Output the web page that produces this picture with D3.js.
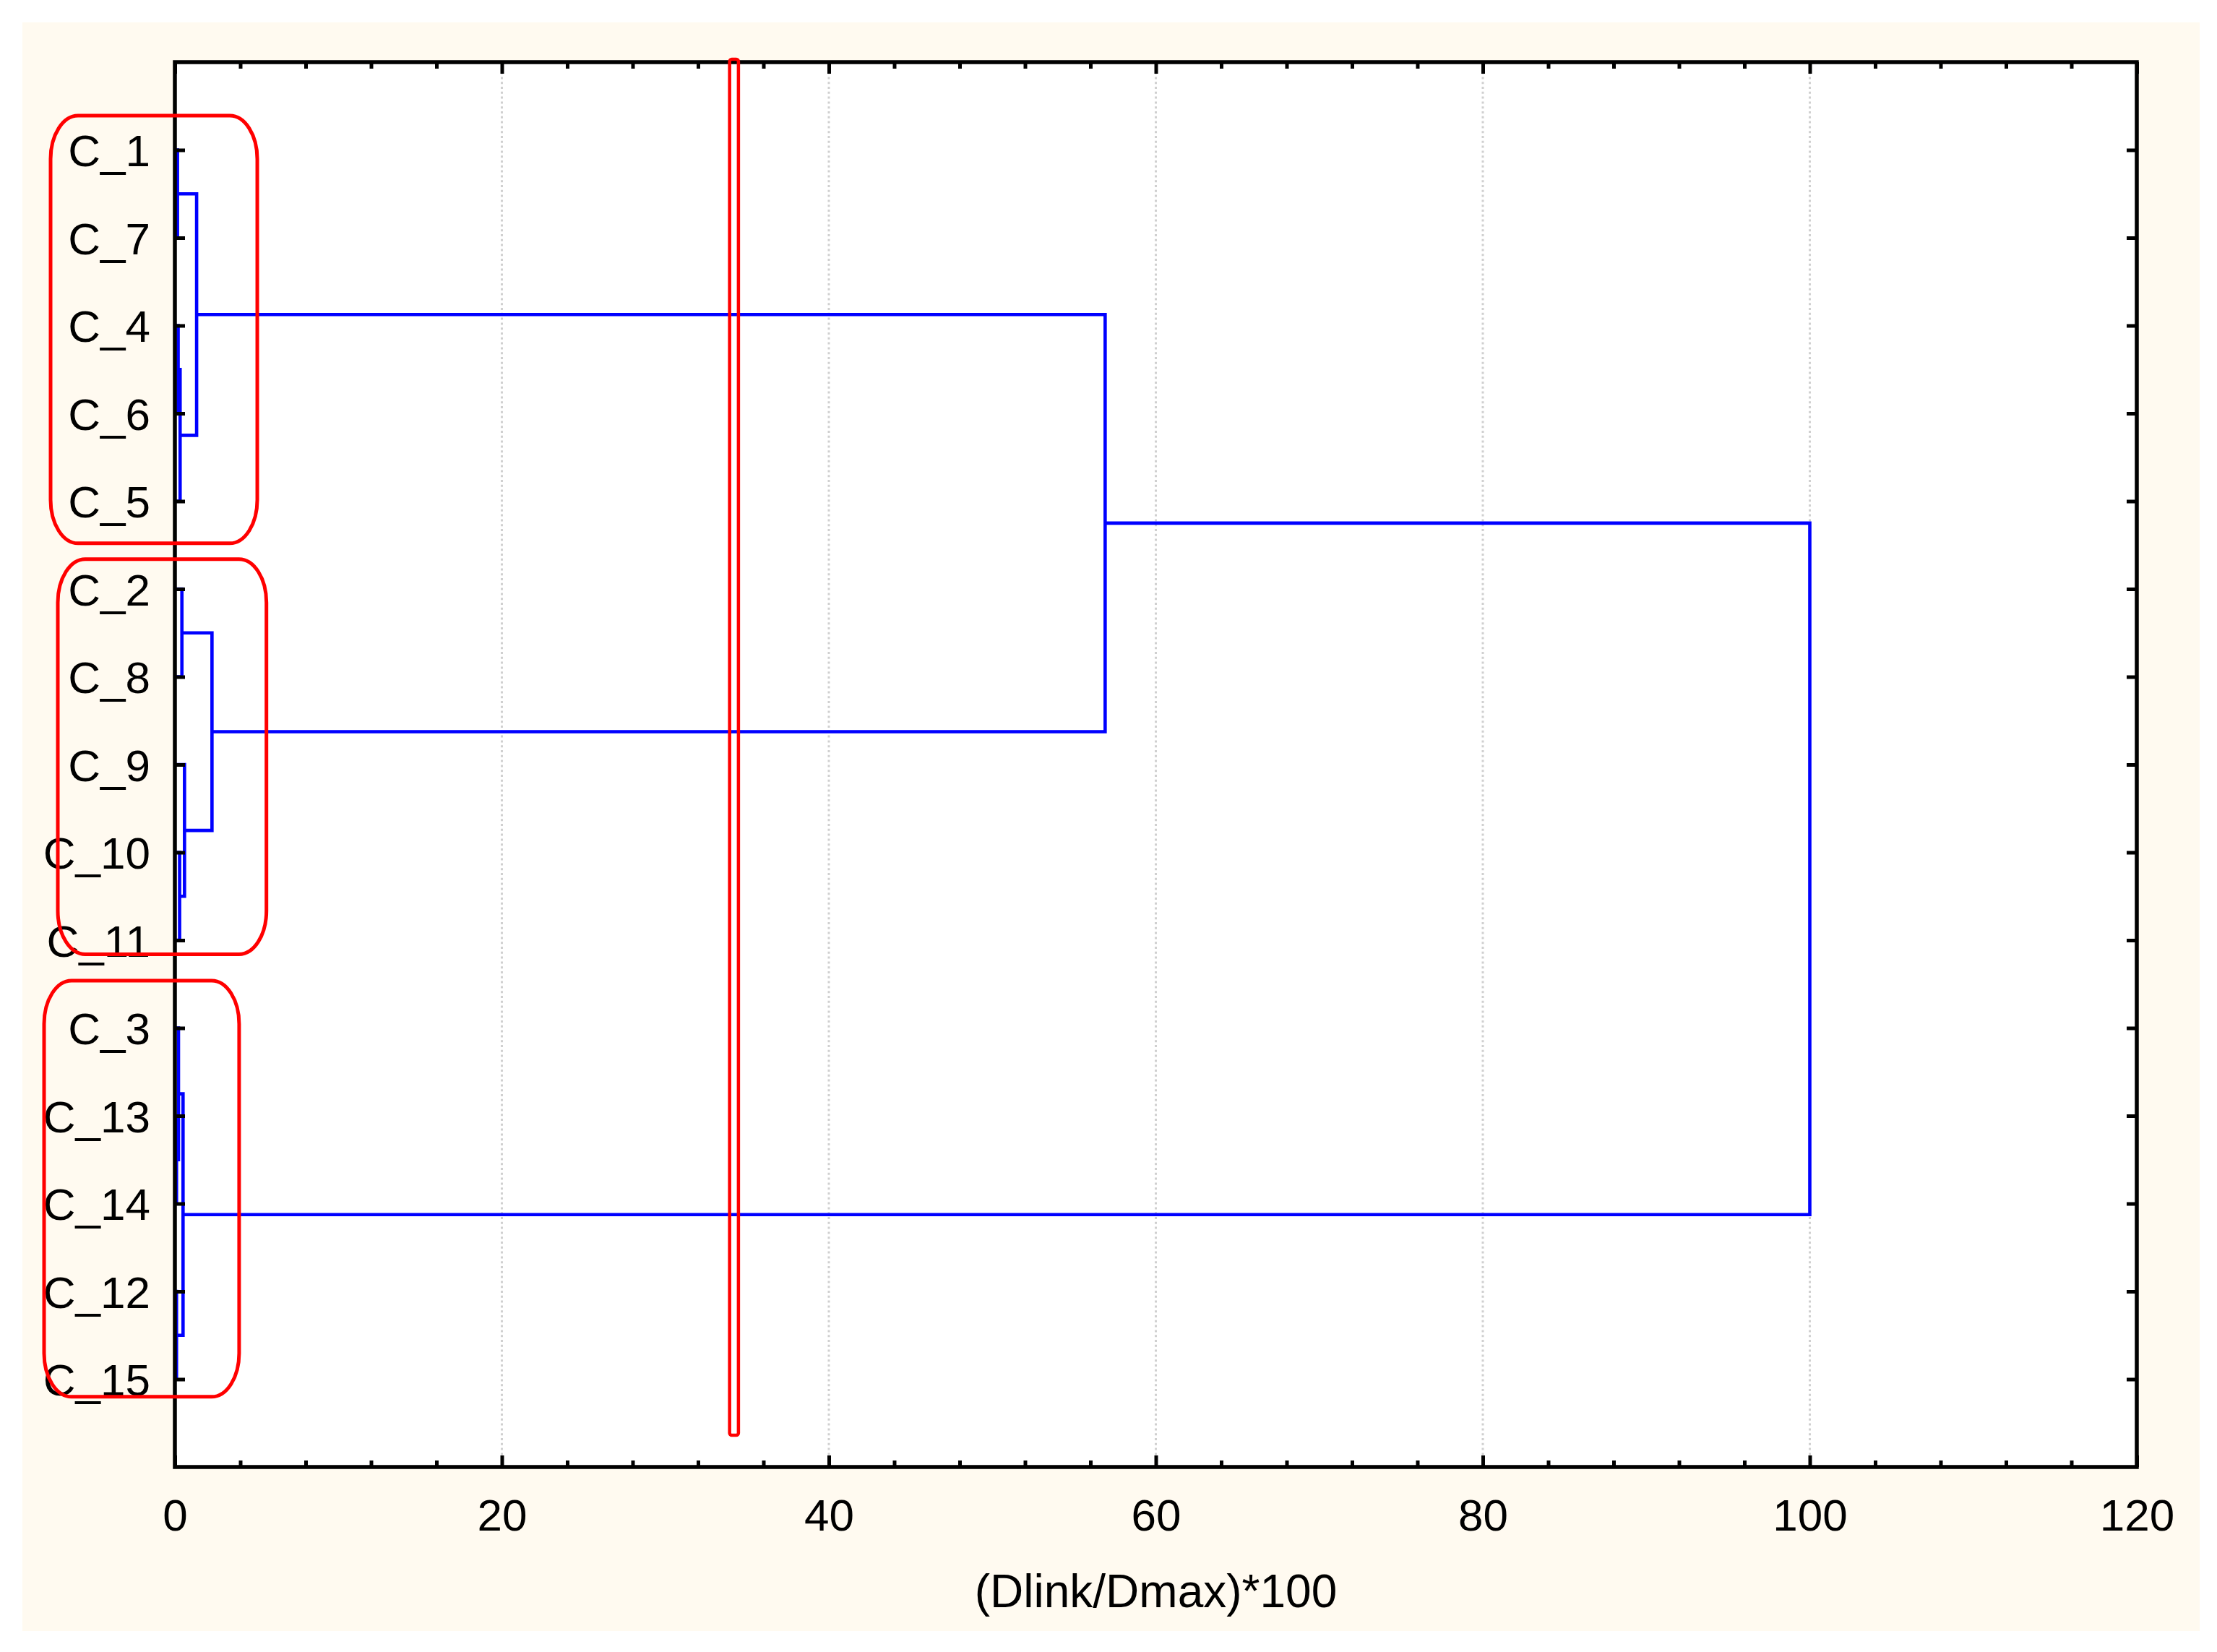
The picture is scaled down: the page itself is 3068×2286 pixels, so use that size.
<!DOCTYPE html>
<html><head><meta charset="utf-8">
<script src="https://cdn.jsdelivr.net/npm/d3@7"></script>
<style>html,body{margin:0;padding:0;background:#fff;} svg{display:block;}</style>
</head><body>
<script>
// ---- data ----
const leaves = ["C_1","C_7","C_4","C_6","C_5","C_2","C_8","C_9","C_10","C_11","C_3","C_13","C_14","C_12","C_15"];
// linkage: node N(i+1) joins linkA[i] and linkB[i] at height linkH[i]
const linkA = ["C_1","C_4","N2","N1","C_2","C_10","C_9","N5","N4","C_13","C_3","C_12","N11","N9"];
const linkB = ["C_7","C_6","C_5","N3","C_8","C_11","N6","N7","N8","C_14","N10","C_15","N12","N13"];
const linkH = [0.16, 0.2, 0.32, 1.33, 0.43, 0.29, 0.59, 2.27, 56.9, 0.1, 0.22, 0.1, 0.5, 100];
const xTicks = [0, 20, 40, 60, 80, 100, 120];
const xTitle = "(Dlink/Dmax)*100";
const cutValue = 34.2;
const clusterFirst = ["C_1", "C_2", "C_3"];
const clusterLast = ["C_5", "C_11", "C_15"];
const clusterRight = [5.04, 5.6, 3.93];

// ---- layout ----
const W = 3068, H = 2286;
const L = {left: 242, right: 2957, top: 86, bottom: 2030};
const font = "'Liberation Sans', Arial, sans-serif";

const svg = d3.select("body").append("svg").attr("width", W).attr("height", H);
svg.append("rect").attr("width", W).attr("height", H).attr("fill", "#fff");
svg.append("rect").attr("x", 31).attr("y", 31).attr("width", 3013).attr("height", 2226).attr("fill", "#fffaf0");
svg.append("rect").attr("x", L.left).attr("y", L.top).attr("width", L.right - L.left).attr("height", L.bottom - L.top).attr("fill", "#fff");

const x = d3.scaleLinear().domain([0, 120]).range([L.left, L.right]);
const y = d3.scalePoint().domain(leaves).range([L.top, L.bottom]).padding(1);
const step = y.step();

// gridlines
svg.append("g").selectAll("line").data(xTicks.filter(v => v > 0 && v < 120)).join("line")
  .attr("x1", d => x(d)).attr("x2", d => x(d)).attr("y1", L.top).attr("y2", L.bottom)
  .attr("stroke", "#d0d0d0").attr("stroke-width", 3).attr("stroke-dasharray", "3,3.8");

// dendrogram
const pos = {};
leaves.forEach(l => pos[l] = {y: y(l), h: 0});
const links = linkA.map((a, i) => {
  const A = pos[a], B = pos[linkB[i]], h = linkH[i];
  pos["N" + (i + 1)] = {y: (A.y + B.y) / 2, h: h};
  return {A, B, h};
});
svg.append("g").selectAll("path").data(links).join("path")
  .attr("d", d => `M${x(d.A.h)},${d.A.y}H${x(d.h)}V${d.B.y}H${x(d.B.h)}`)
  .attr("fill", "none").attr("stroke", "#0000ff").attr("stroke-width", 4.6);

// axes
function styleAxis(g) {
  g.select(".domain").remove();
  g.selectAll(".tick line").attr("stroke", "#000").attr("stroke-width", 5);
  g.selectAll("text").attr("fill", "#000").attr("font-family", font).attr("font-size", 62);
}
const minor = d3.range(0, 121, 4).filter(v => v % 20 !== 0);
svg.append("g").attr("transform", `translate(0,${L.bottom})`)
  .call(d3.axisBottom(x).tickValues(xTicks).tickSizeInner(-16).tickSizeOuter(0).tickPadding(44).tickFormat(d3.format("d")))
  .call(styleAxis);
svg.append("g").attr("transform", `translate(0,${L.bottom})`)
  .call(d3.axisBottom(x).tickValues(minor).tickSizeInner(-9).tickSizeOuter(0).tickFormat(""))
  .call(styleAxis);
svg.append("g").attr("transform", `translate(0,${L.top})`)
  .call(d3.axisTop(x).tickValues(xTicks).tickSizeInner(-16).tickSizeOuter(0).tickFormat(""))
  .call(styleAxis);
svg.append("g").attr("transform", `translate(0,${L.top})`)
  .call(d3.axisTop(x).tickValues(minor).tickSizeInner(-9).tickSizeOuter(0).tickFormat(""))
  .call(styleAxis);
svg.append("g").attr("transform", `translate(${L.left},0)`)
  .call(d3.axisLeft(y).tickSizeInner(-14).tickSizeOuter(0).tickPadding(34))
  .call(styleAxis)
  .selectAll("text").attr("font-size", 62).attr("dy", "0.36em");
svg.append("g").attr("transform", `translate(${L.right},0)`)
  .call(d3.axisRight(y).tickSizeInner(-14).tickSizeOuter(0).tickFormat(""))
  .call(styleAxis);

// frame
svg.append("rect").attr("x", L.left).attr("y", L.top).attr("width", L.right - L.left).attr("height", L.bottom - L.top)
  .attr("fill", "none").attr("stroke", "#000").attr("stroke-width", 5.5);

// axis title
svg.append("text").attr("x", (L.left + L.right) / 2).attr("y", 2224).attr("text-anchor", "middle")
  .attr("font-family", font).attr("font-size", 64).attr("fill", "#000").text(xTitle);

// cluster annotation boxes
const boxPad = [{l: 172, t: 0.39, b: 0.48}, {l: 162, t: 0.34, b: 0.16}, {l: 181, t: 0.54, b: 0.2}];
svg.append("g").selectAll("rect").data(clusterFirst.map((f, i) => ({f, l: clusterLast[i], r: clusterRight[i], p: boxPad[i]}))).join("rect")
  .attr("x", d => x(0) - d.p.l)
  .attr("y", d => y(d.f) - d.p.t * step)
  .attr("width", d => x(d.r) - (x(0) - d.p.l))
  .attr("height", d => (y(d.l) + d.p.b * step) - (y(d.f) - d.p.t * step))
  .attr("rx", 38).attr("ry", 60)
  .attr("fill", "none").attr("stroke", "#ff0000").attr("stroke-width", 5);

// cut line rectangle
svg.append("rect")
  .attr("x", x(cutValue - 0.27)).attr("y", L.top - 4)
  .attr("width", x(cutValue + 0.27) - x(cutValue - 0.27)).attr("height", (L.bottom - 44) - (L.top - 4))
  .attr("rx", 3).attr("fill", "none").attr("stroke", "#ff0000").attr("stroke-width", 4.5);
</script>
</body></html>
